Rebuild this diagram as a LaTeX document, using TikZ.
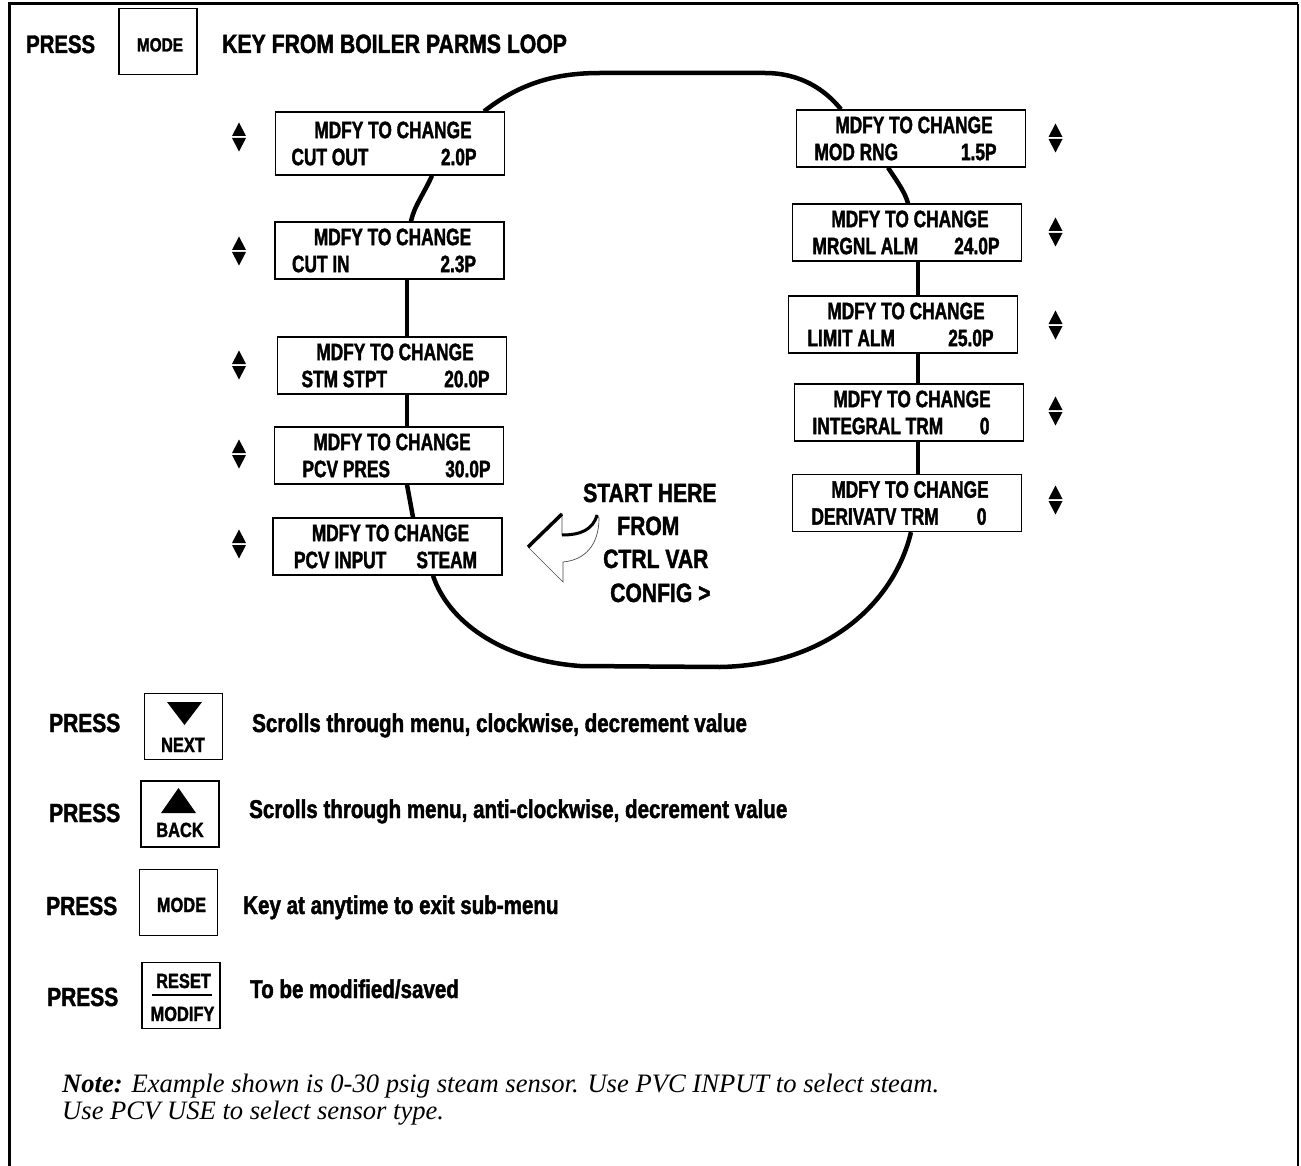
\documentclass[tikz,border=0pt]{standalone}
\usepackage{fontspec}
\newfontfamily\boxfont[FakeStretch=0.73, BoldFeatures={FakeBold=1.6}]{Liberation Sans}
\newfontfamily\condfont[FakeStretch=0.8, BoldFeatures={FakeBold=1.6}]{Liberation Sans}
\newfontfamily\notefont{Liberation Serif}
\usetikzlibrary{
  positioning,
  calc,
  backgrounds
}

% two text lines of a menu display: label, value, left pad, right pad
\newcommand{\mdfy}[4]{\hspace*{6pt}MDFY TO CHANGE\\\makebox[229pt]{\hspace*{#3pt}#1\hfill#2\hspace*{#4pt}}}

\begin{document}
\begin{tikzpicture}[
  x=1pt, y=-1pt,
  menubox/.style={draw, line width=1.3pt, fill=white, minimum width=229pt, minimum height=57pt, inner sep=0pt, align=center, font=\boxfont\bfseries\fontsize{23.7}{27}\selectfont},
  loopline/.style={line width=4.5pt},
  keybox/.style={draw, line width=1.6pt, minimum width=78pt, minimum height=66pt, inner sep=0pt},
  keytxt/.style={anchor=base, inner sep=0pt, font=\condfont\bfseries\fontsize{20.5}{20.5}\selectfont},
  press/.style={anchor=base west, inner sep=0pt, font=\condfont\bfseries\fontsize{26.2}{26}\selectfont},
  desc/.style={anchor=base west, inner sep=0pt, font=\condfont\bfseries\fontsize{25.7}{26}\selectfont},
  starttxt/.style={anchor=base west, inner sep=0pt, font=\condfont\bfseries\fontsize{26.4}{26}\selectfont},
  notetxt/.style={anchor=base west, inner sep=0pt, font=\notefont\itshape\fontsize{26.6}{28}\selectfont},
  updn/.pic={
    \fill (-7,-1) -- (7,-1) -- (0,-14.5) -- cycle;
    \fill (-7,1) -- (7,1) -- (0,14.5) -- cycle;
  }
]
  \useasboundingbox (0,0) rectangle (1301,1166);

  % frame
  \draw[line width=3pt] (9.5,1166) -- (9.5,4) -- (1298,4);
  \draw[line width=2pt] (1298,4) -- (1298,1166);

  % header line
  \node[press, font=\condfont\bfseries\fontsize{25.4}{26}\selectfont] (hpress) at (26,53) {PRESS};
  \node[keybox] (hmode) at (158,41.5) {};
  \node[keytxt, font=\condfont\bfseries\fontsize{19.2}{19}\selectfont] (hmodetxt) at (160,51.5) {MODE};
  \node[press, font=\condfont\bfseries\fontsize{26.5}{26}\selectfont] (hkey) at (222,53) {KEY FROM BOILER PARMS LOOP};

  % left column of displays
  \node[menubox, minimum height=63pt] (cutout) at (390,143.5) {\mdfy{CUT OUT}{2.0P}{16}{28}};
  \node[menubox] (cutin) at (389.5,250.5) {\mdfy{CUT IN}{2.3P}{17}{28}};
  \node[menubox] (stmstpt) at (392,365.5) {\mdfy{STM STPT}{20.0P}{24}{17}};
  \node[menubox] (pcvpres) at (389,455.5) {\mdfy{PCV PRES}{30.0P}{28}{13}};
  \node[menubox] (pcvinput) at (387.5,546.5) {\mdfy{PCV INPUT}{STEAM}{21}{25}};

  % right column of displays
  \node[menubox] (modrng) at (911,138.5) {\mdfy{MOD RNG}{1.5P}{18}{29}};
  \node[menubox] (mrgnl) at (907,232.5) {\mdfy{MRGNL ALM}{24.0P}{20}{22}};
  \node[menubox] (limitalm) at (903,324.5) {\mdfy{LIMIT ALM}{25.0P}{19}{24}};
  \node[menubox] (integral) at (909,412.5) {\mdfy{INTEGRAL TRM}{0}{18}{34}};
  \node[menubox] (derivatv) at (907,503) {\mdfy{DERIVATV TRM}{0}{19}{35}};

  % scroll marks
  \foreach \y in {137,251,365,454,544} \pic at (239,\y) {updn};
  \foreach \y in {138,232,325,411,500} \pic at (1055.5,\y) {updn};

  % the loop
  \begin{scope}[on background layer]
    \draw[loopline] ([xshift=94pt]cutout.north) .. controls +(36,-28) and +(-45,0) .. (600,73)
      -- (765,73) .. controls +(35,0) and +(-16,-20) .. ([xshift=-70pt]modrng.north);
    \draw[loopline] ([xshift=-23pt]modrng.south) .. controls +(10,15) and +(-3,-11) .. ([xshift=1pt]mrgnl.north);
    \draw[loopline] ([xshift=11pt]mrgnl.south) -- ([xshift=15pt]limitalm.north);
    \draw[loopline] ([xshift=15pt]limitalm.south) -- ([xshift=9pt]integral.north);
    \draw[loopline] ([xshift=9pt]integral.south) -- ([xshift=11pt]derivatv.north);
    \draw[loopline] ([xshift=4pt]derivatv.south) .. controls +(-16,68) and +(110,-2) .. (720,667)
      -- (580,666) .. controls +(-80,-6) and +(15,45) .. ([xshift=45.5pt]pcvinput.south);
    \draw[loopline] ([xshift=25.5pt]pcvinput.north) -- ([xshift=18pt]pcvpres.south);
    \draw[loopline] ([xshift=18pt]pcvpres.north) -- ([xshift=15pt]stmstpt.south);
    \draw[loopline] ([xshift=15pt]stmstpt.north) -- ([xshift=17.5pt]cutin.south);
    \draw[loopline] ([xshift=21.5pt]cutin.north) .. controls +(3,-15) and +(-8,18) .. ([xshift=42pt]cutout.south);
  \end{scope}

  % start arrow
  \filldraw[fill=white, draw=black!70, line width=0.7pt] (528,547) -- (562,514) -- (562,535)
    .. controls (580,535) and (593,530) .. (597,515) -- (599,518)
    .. controls (599,545) and (585,560) .. (563,562) -- (563,582) -- cycle;
  \draw[line width=3.5pt] (528,547) -- (562,514);
  \draw[line width=3pt] (562,535) .. controls (580,535) and (593,530) .. (597,515);
  \node[starttxt] (start1) at (583,502) {START HERE};
  \node[starttxt] (start2) at (617,535) {FROM};
  \node[starttxt] (start3) at (603,568) {CTRL VAR};
  \node[starttxt] (start4) at (610,602) {CONFIG >};

  % keys
  \node[press] (press1) at (49,732) {PRESS};
  \node[keybox] (knext) at (183.5,726.5) {};
  \fill ([shift={(-16.5,-24.5)}]knext.center) -- ++(35,0) -- ++(-17.5,23) -- cycle;
  \node[keytxt] (knexttxt) at (183,752) {NEXT};
  \node[desc] (desc1) at (252,732) {Scrolls through menu, clockwise, decrement value};

  \node[press] (press2) at (49,822) {PRESS};
  \node[keybox] (kback) at (180,814) {};
  \fill ([shift={(-19,-1)}]kback.center) -- ++(35,0) -- ++(-17.5,-25) -- cycle;
  \node[keytxt] (kbacktxt) at (180,837) {BACK};
  \node[desc] (desc2) at (249,818) {Scrolls through menu, anti-clockwise, decrement value};

  \node[press] (press3) at (46,915) {PRESS};
  \node[keybox] (kmode) at (178.5,902.5) {};
  \node[keytxt] (kmodetxt) at (181.5,912) {MODE};
  \node[desc] (desc3) at (243,914) {Key at anytime to exit sub-menu};

  \node[press] (press4) at (47,1006) {PRESS};
  \node[keybox] (kreset) at (181,995.5) {};
  \node[keytxt] (kresettxt) at (183.5,988) {RESET};
  \draw[line width=2pt] (152,995) -- (212,995);
  \node[keytxt] (kmodifytxt) at (182.5,1021) {MODIFY};
  \node[desc] (desc4) at (250,998) {To be modified/saved};

  % note
  \node[notetxt] (note1) at (62,1092) {{\bfseries Note:} Example shown is 0-30 psig steam sensor. Use PVC INPUT to select steam.};
  \node[notetxt] (note2) at (62,1119) {Use PCV USE to select sensor type.};
\end{tikzpicture}
\end{document}
